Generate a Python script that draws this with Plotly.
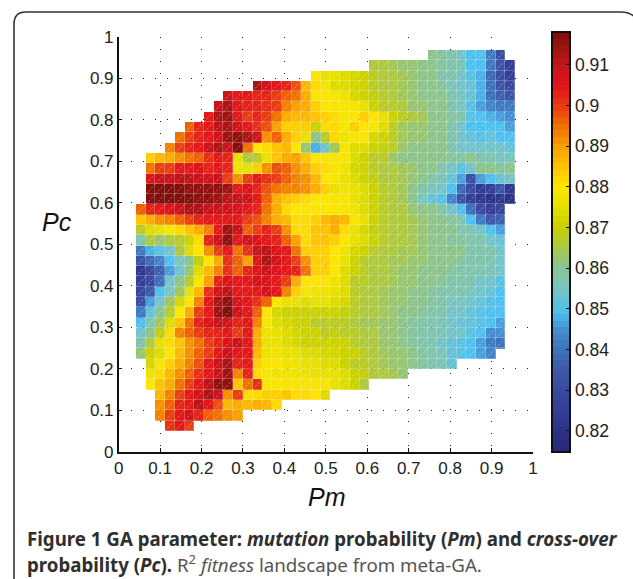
import numpy as np
import plotly.graph_objects as go

# Fitness R^2 (x 1000), top row first. Each row starts at the column in ROW_START.
ROW_START = [30, 24, 18, 12, 9, 8, 7, 5, 4, 3, 1, 1, 1, 1, 1, 0, 0, 0, 0, 0, 0, 0, 0, 0, 0, 0, 0, 0, 0, 0, 1, 1, 1, 2, 2, 2, 3]
ROW_END = [37, 38, 38, 38, 38, 38, 38, 38, 38, 38, 38, 38, 38, 38, 38, 37, 37, 37, 37, 37, 37, 37, 37, 37, 37, 37, 37, 37, 37, 36, 32, 27, 23, 19, 14, 10, 5]
ROWS = [
 [860,859,857,854,850,849,841,832],
 [866,865,864,863,862,861,860,859,857,856,850,849,842,834,826],
 [879,875,875,873,872,870,867,866,865,864,863,861,860,858,857,855,851,848,838,832,826],
 [912,908,905,902,898,887,881,878,874,873,872,871,868,866,865,864,862,861,860,859,856,855,852,848,840,834,830],
 [910,905,905,903,902,900,897,895,889,880,878,878,877,872,871,869,867,866,864,862,861,860,860,857,855,853,848,840,836,834],
 [910,913,905,903,903,901,899,893,890,888,884,880,879,879,878,875,871,868,867,865,863,862,861,860,858,856,851,846,843,842,842],
 [905,912,914,905,899,902,899,895,888,887,887,885,883,881,878,879,884,880,875,870,868,866,864,861,861,859,857,851,849,848,846,845],
 [896,902,905,911,912,908,904,901,898,890,883,884,884,871,882,881,878,883,880,878,874,868,864,863,862,861,860,858,855,850,850,849,850,847],
 [894,899,903,905,908,914,916,912,908,892,897,889,884,876,861,868,882,877,879,878,872,871,868,864,863,862,861,860,858,854,853,851,852,849,849],
 [893,899,902,905,910,912,910,917,895,880,881,885,886,880,863,848,855,864,879,874,873,870,869,867,862,861,861,861,860,858,855,855,854,855,855,853],
 [884,887,889,892,894,896,901,905,902,876,865,867,875,885,888,890,885,880,878,878,878,873,871,868,867,862,860,860,860,860,860,859,859,861,858,858,856,856],
 [895,899,900,904,905,906,903,905,903,877,876,884,892,898,896,892,888,884,881,878,877,872,871,868,866,865,864,862,861,860,858,855,851,855,860,860,859,860],
 [906,909,909,911,911,909,908,910,900,892,900,904,901,899,897,893,892,886,880,878,876,874,871,869,866,865,864,862,860,858,856,852,846,832,846,850,853,854],
 [917,917,917,917,916,916,915,915,914,904,906,902,898,894,893,893,891,888,883,875,877,876,873,870,867,866,864,861,858,856,854,850,838,830,824,826,834,822],
 [918,918,918,917,917,916,915,914,911,910,908,905,897,888,885,883,881,880,880,879,878,875,873,870,867,866,864,860,856,853,851,843,834,826,822,820,822,820],
 [897,902,905,906,910,912,913,910,909,907,906,905,902,895,888,882,880,880,880,880,880,879,877,873,871,868,866,865,863,861,860,858,855,850,840,830,825,828],
 [885,888,891,893,897,900,902,905,905,904,905,900,898,893,889,887,882,882,884,886,889,887,878,876,870,867,866,865,864,862,861,860,859,857,850,842,835,836],
 [868,873,875,879,881,885,888,893,905,914,910,897,900,903,900,892,882,882,885,885,888,881,875,872,869,867,866,865,864,862,861,860,860,858,857,855,850,846],
 [857,866,863,865,867,871,882,902,910,916,905,908,906,905,902,896,890,881,885,885,884,880,875,873,870,867,866,865,864,862,861,860,859,859,858,857,855,853],
 [842,848,851,854,865,873,880,892,899,905,895,901,910,911,906,904,894,883,884,884,880,877,872,870,867,866,865,864,864,863,861,860,860,860,858,858,858,855],
 [833,838,843,850,856,861,869,880,888,901,897,890,906,912,908,905,900,892,883,883,880,876,870,868,866,865,864,864,863,862,861,860,860,859,858,858,857,855],
 [822,829,836,846,855,863,873,886,893,901,896,902,906,910,906,905,902,894,884,883,880,874,870,868,866,865,864,863,862,861,860,860,859,858,858,857,856,855],
 [825,830,840,855,861,868,879,890,903,906,904,904,908,906,905,899,888,880,880,879,877,873,868,867,866,865,864,863,862,861,860,859,858,858,857,855,854,851],
 [828,835,850,856,864,875,886,901,908,911,905,904,905,907,905,893,884,879,877,877,875,873,867,866,865,864,863,863,861,860,859,858,857,857,856,854,852,850],
 [832,846,855,864,872,880,893,904,912,915,906,904,901,897,880,876,875,874,875,875,873,872,867,866,865,864,863,862,861,860,859,858,856,856,855,853,851,850],
 [841,853,861,868,880,888,900,905,914,917,908,904,897,880,872,871,871,871,870,871,870,869,867,866,865,864,863,861,860,859,858,857,855,854,852,851,850,850],
 [849,857,864,874,885,895,903,906,909,908,902,905,893,878,873,872,871,870,868,867,868,867,865,864,864,863,862,860,859,858,857,856,854,853,852,851,849,846],
 [854,861,869,881,893,896,899,902,903,904,899,905,888,877,875,873,872,871,870,868,869,868,867,866,865,863,862,860,859,858,857,856,855,854,851,850,845,844],
 [858,865,876,882,885,891,895,899,903,906,910,905,889,876,875,873,872,871,871,870,871,870,867,866,865,863,862,860,859,858,857,855,853,851,849,846,842,840],
 [863,871,873,880,886,892,896,900,905,910,904,905,887,877,877,876,875,874,873,872,872,871,870,867,865,864,863,862,860,859,858,856,853,851,850,847,843],
 [872,879,884,888,893,898,904,909,913,903,904,883,879,878,877,877,876,875,874,873,871,868,867,866,864,863,862,860,859,857,856,853],
 [877,881,887,892,897,901,905,910,914,893,902,881,878,877,877,877,877,876,876,875,873,871,869,866,865,864,863],
 [880,885,889,895,899,904,911,915,916,885,894,901,879,878,878,878,878,878,878,875,873,870,866],
 [887,893,900,904,907,912,910,892,899,881,882,884,884,885,882,881,880,874],
 [892,897,902,905,911,905,898,886,889,887,888,886,882],
 [893,900,905,908,902,896,894,892,890],
 [901,904,899],
]
N_COLS = 39
PM_FIRST_EDGE, PM_STEP = 0.0417, 0.02346
PC_TOP_EDGE, PC_STEP = 0.968, 0.0248

TICK_VALS = [0, .1, .2, .3, .4, .5, .6, .7, .8, .9, 1]
TICK_TEXT = ["0", "0.1", "0.2", "0.3", "0.4", "0.5", "0.6", "0.7", "0.8", "0.9", "1"]
CB_VALS = [.82, .83, .84, .85, .86, .87, .88, .89, .90, .91]
CB_TEXT = ["0.82", "0.83", "0.84", "0.85", "0.86", "0.87", "0.88", "0.89", "0.9", "0.91"]
Z_MIN, Z_MAX = 0.8148, 0.9181
CMAP_VALS = [.8148, .82, .825, .83, .835, .84, .845, .8495, .855, .86, .865, .87, .875, .88, .885, .89, .895, .90, .905, .91, .914, .9181]
CMAP_COLS = ["#2a2c78", "#2d3288", "#353f98", "#3a4aa0", "#3d5aaa", "#3f72bc", "#4592d4", "#50c0f0", "#78c4c4", "#88c498", "#aac848",
             "#cad000", "#e6e000", "#ffe600", "#ffc400", "#f8a000", "#f07000", "#e93a16", "#e3141a", "#c4141a", "#a01412", "#7c0f0c"]

# grid
z = np.full((len(ROWS), N_COLS), np.nan)
for r, vals in enumerate(ROWS):
    if len(vals) != ROW_END[r] - ROW_START[r] + 1:
        raise SystemExit(f"row {r}: {len(vals)} vs {ROW_END[r]-ROW_START[r]+1}")
    z[r, ROW_START[r]:ROW_END[r] + 1] = np.array(vals) / 1000.0
z = z[::-1]  # bottom row first
nrows = z.shape[0]
x0 = PM_FIRST_EDGE + PM_STEP / 2
y_bottom_edge = PC_TOP_EDGE - PC_STEP * nrows
y0 = y_bottom_edge + PC_STEP / 2

# 64-level colour scale, as in the colour bar
L = 64
rgb = np.array([[int(c[i:i + 2], 16) for i in (1, 3, 5)] for c in CMAP_COLS], float)
mid = Z_MIN + (np.arange(L) + .5) / L * (Z_MAX - Z_MIN)
chan = np.stack([np.interp(mid, CMAP_VALS, rgb[:, i]) for i in range(3)], 1)
cs = []
for i in range(L):
    col = "rgb(%d,%d,%d)" % tuple(chan[i])
    cs += [[i / L, col], [(i + 1) / L, col]]

common = dict(z=z, x0=x0, dx=PM_STEP, y0=y0, dy=PC_STEP, zmin=Z_MIN, zmax=Z_MAX, colorscale=cs, hoverinfo="skip")
fig = go.Figure()
fig.add_trace(go.Heatmap(
    opacity=0.78, showscale=True,
    colorbar=dict(x=552 / 633, xanchor="left", y=1 - 32 / 579, yanchor="top", lenmode="pixels", len=420,
                  thickness=18, xpad=0, ypad=0, outlinewidth=2, outlinecolor="#111",
                  tickmode="array", tickvals=CB_VALS, ticktext=CB_TEXT, ticks="inside", ticklen=5,
                  tickcolor="#111", tickwidth=1.2,
                  tickfont=dict(family="Liberation Sans", size=17.5, color="#222")),
    **common))
fig.add_trace(go.Heatmap(opacity=1, showscale=False, xgap=1, ygap=1, **common))

# diagonal seam of each cell
dx_, dy_ = [], []
for r in range(nrows):
    for c in range(N_COLS):
        if not np.isnan(z[r, c]):
            xl = PM_FIRST_EDGE + c * PM_STEP
            yb = y_bottom_edge + r * PC_STEP
            dx_ += [xl, xl + PM_STEP, None]
            dy_ += [yb, yb + PC_STEP, None]
fig.add_trace(go.Scatter(x=dx_, y=dy_, mode="lines", hoverinfo="skip", showlegend=False,
                         line=dict(color="rgba(255,255,255,0.42)", width=1, dash="2px,2px")))

axis = dict(range=[0, 1], tickmode="array", tickvals=TICK_VALS, ticktext=TICK_TEXT, ticks="inside", ticklen=4,
            tickcolor="#111", tickwidth=1, showline=True, linecolor="#111", linewidth=1.5, zeroline=False,
            showgrid=True, gridcolor="#222", gridwidth=1, griddash="1px,11px",
            tickfont=dict(family="Liberation Sans", size=17, color="#222"))
fig.update_xaxes(domain=[118.7 / 633, 533 / 633], **axis)
fig.update_yaxes(domain=[1 - 451.7 / 579, 1 - 36.7 / 579], **axis)

frame = "M %f %f L %f %f Q %f %f %f %f L %f %f Q %f %f %f %f" % tuple(
    v for px, py in [(14, 579), (14, 24), (14, 12), (26, 12), (622, 12), (632, 12), (640, 22)]
    for v in (px / 633, 1 - py / 579))
shapes = [dict(type="path", path=frame, xref="paper", yref="paper", line=dict(color="#333", width=1.6))]
for v in CB_VALS:
    py = 32 + (Z_MAX - v) / (Z_MAX - Z_MIN) * 420
    shapes.append(dict(type="line", xref="paper", yref="paper", x0=552 / 633, x1=557 / 633,
                       y0=1 - py / 579, y1=1 - py / 579, line=dict(color="#111", width=1.2)))

def note(text, px, py, size, family, color="#222", xanchor="center"):
    return dict(text=text, x=px / 633, y=1 - py / 579, xref="paper", yref="paper", showarrow=False,
                xanchor=xanchor, yanchor="middle", font=dict(family=family, size=size, color=color))

annotations = [
    note("<i>Pm</i>", 327, 497, 25, "Liberation Sans", "#111"),
    note("<i>Pc</i>", 57, 222, 25, "Liberation Sans", "#111"),
    note("<b>Figure 1 GA parameter: <i>mutation</i> probability (<i>Pm</i>) and <i>cross-over</i></b>",
         25, 538, 18.7, "Noto Sans", "#2e2e2e", "left"),
    note("<b>probability (<i>Pc</i>).</b> <span style='color:#555'>R<sup>2</sup> <i>fitness</i> landscape from meta-GA.</span>",
         25, 563, 18.7, "Noto Sans", "#2e2e2e", "left"),
]
fig.update_layout(width=633, height=579, margin=dict(l=0, r=0, t=0, b=0, autoexpand=False),
                  paper_bgcolor="white", plot_bgcolor="white", showlegend=False,
                  shapes=shapes, annotations=annotations)
fig.write_html("out.html", post_script="document.body.style.margin='0';",
               config=dict(displayModeBar=False))
